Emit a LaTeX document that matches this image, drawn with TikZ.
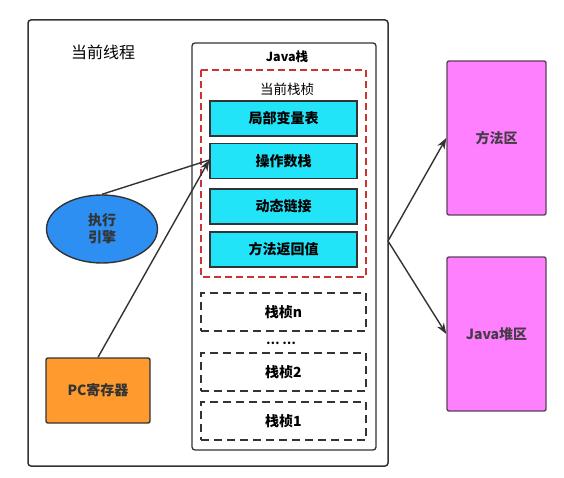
\documentclass[tikz,border=0pt]{standalone}
\usepackage{fontspec}
\setmainfont{Noto Sans CJK SC}
\usetikzlibrary{arrows.meta,shapes.geometric}
\definecolor{dk}{HTML}{333333}
\definecolor{cyanbox}{HTML}{22E4F8}
\definecolor{bluell}{HTML}{2E8FF2}
\definecolor{orangebox}{HTML}{FF9A2E}
\definecolor{magbox}{HTML}{FF80FF}
\definecolor{redd}{HTML}{CC3333}
\tikzset{
  frame/.style={draw=dk,line width=1.5pt,rounded corners=3pt},
  cyanstyle/.style={draw=dk,line width=1.4pt,fill=cyanbox,minimum width=147pt,minimum height=35pt,inner sep=0pt,font=\fontsize{14}{16}\selectfont\bfseries},
  dashframe/.style={draw=dk,line width=1.2pt,dash pattern=on 8pt off 5pt,minimum width=165pt,minimum height=38pt,inner sep=0pt,font=\fontsize{14}{16}\selectfont\bfseries},
  magstyle/.style={draw=dk!80!magbox,line width=1.4pt,fill=magbox,rounded corners=2pt,minimum width=99pt,inner sep=0pt,font=\fontsize{14}{16}\selectfont\bfseries,text=dk!90!magbox},
  conn/.style={draw=dk,line width=1.4pt},
  arr/.style={conn,-{Stealth[length=11pt,width=8pt]}},
}
\begin{document}
\begin{tikzpicture}[x=1pt,y=-1pt]
\useasboundingbox (0,0) rectangle (564,478);
% outer thread box
\draw[frame] (28,20) rectangle (388,466);
\node (thread) at (103,52) {\fontsize{16}{18}\selectfont 当前线程};
% java stack
\draw[frame,line width=1.3pt] (192,43) rectangle (376,450);
\node (javastack) at (287,57) {\fontsize{12.5}{14}\selectfont\bfseries Java栈};
% current frame
\draw[draw=redd,line width=1.4pt,dash pattern=on 7pt off 4pt] (201,70) rectangle (366,277);
\node (curframe) at (287,89) {\fontsize{13.5}{15}\selectfont 当前栈桢};
\node[cyanstyle] (local) at (283.5,118.5) {局部变量表};
\node[cyanstyle] (operand) at (283.5,161) {操作数栈};
\node[cyanstyle] (dynlink) at (283.5,206.5) {动态链接};
\node[cyanstyle] (retval) at (283.5,249.5) {方法返回值};
% other frames
\node[dashframe] (framen) at (283.5,312) {栈桢n};
\node (dots) at (281,343) {\fontsize{12}{14}\selectfont\bfseries … …};
\node[dashframe] (frame2) at (283.5,372) {栈桢2};
\node[dashframe] (frame1) at (283.5,421) {栈桢1};
% execution engine
\node[ellipse,draw=dk,line width=1.4pt,fill=bluell,minimum width=111pt,minimum height=68pt,inner sep=0pt,align=center,font=\fontsize{14}{17}\selectfont\bfseries,text=dk] (engine) at (102,229) {执行\\引擎};
% pc register
\node[draw=dk,line width=1.4pt,fill=orangebox,rounded corners=2pt,minimum width=104pt,minimum height=65pt,inner sep=0pt,font=\fontsize{14}{16}\selectfont\bfseries,text=dk] (pc) at (98,390.5) {PC寄存器};
% method area and heap
\node[magstyle,minimum height=154pt] (method) at (496.5,138) {方法区};
\node[magstyle,minimum height=154pt] (heap) at (496.5,334) {Java堆区};
% connectors
\coordinate (fork) at (388,241);
\draw[conn] (engine.north) -- ([yshift=1pt]operand.west);
\draw[arr] (pc.north) -- ([yshift=1pt]operand.west);
\draw[arr] (fork) -- (method.west);
\draw[arr] (fork) -- (heap.west);
\end{tikzpicture}
\end{document}
